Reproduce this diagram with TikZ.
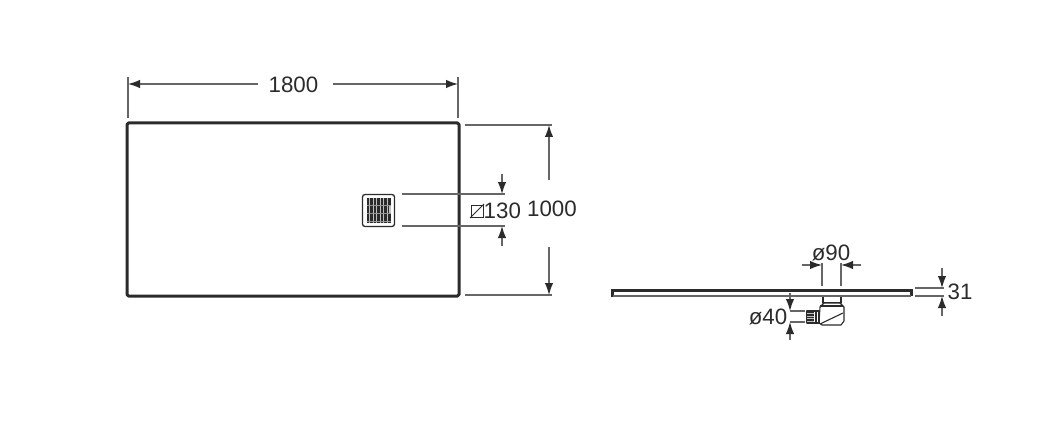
\documentclass[tikz,border=0pt]{standalone}
\usepackage{fontspec}
\setmainfont{Liberation Sans}
\usetikzlibrary{arrows.meta}
\definecolor{ink}{HTML}{2B2B2B}
\definecolor{thin}{HTML}{666666}
\tikzset{
 lbl/.style={inner sep=0pt,text=ink,font=\fontsize{22.3}{24}\selectfont},
 ext/.style={draw=thin,line width=1.3pt},
 dim/.style={draw=thin,line width=1.3pt,-{Latex[length=12pt,width=8.5pt,color=ink]}},
 heavy/.style={draw=ink,line width=3pt,line join=round},
 part/.style={draw=ink,line width=1.1pt,line join=round},
}
\begin{document}
\begin{tikzpicture}[x=1pt,y=-1pt]
\useasboundingbox (0,0) rectangle (1039,425);
% plan: tray
\node[heavy,rounded corners=1.5pt,minimum width=332pt,minimum height=173pt,inner sep=0pt,anchor=center] (tray) at (293,209.5) {};
% plan: overall length
\coordinate (xa) at (128,77);\coordinate (xa2) at (128,118);
\coordinate (xb) at (458,77);\coordinate (xb2) at (458,118);
\draw[ext] (xa) -- (xa2);\draw[ext] (xb) -- (xb2);
\node[lbl] (l1800) at (293.5,84.5) {1800};
\coordinate (xal) at (128,84);\coordinate (xar) at (458,84);
\draw[dim] (258,84) -- (xal);
\draw[dim] (333,84) -- (xar);
% plan: overall width
\coordinate (ya) at (465,125);\coordinate (ya2) at (552,125);
\coordinate (yb) at (465,295);\coordinate (yb2) at (552,295);
\draw[ext] (ya) -- (ya2);\draw[ext] (yb) -- (yb2);
\node[lbl] (l1000) at (552,208.5) {1000};
\coordinate (yat) at (549,125);\coordinate (ybt) at (549,295);
\draw[dim] (549,180) -- (yat);
\draw[dim] (549,247) -- (ybt);
% plan: drain
\node[draw=ink,line width=1.3pt,rounded corners=2.5pt,fill=white,minimum width=32pt,minimum height=32pt,inner sep=0pt] (drain) at (378.5,210.5) {};
\fill[ink] (366.5,198) rectangle (391,223);
\foreach \x in {369.5,373,376.5,380,383.5,387}{\draw[white!70!ink,line width=.7pt] (\x,198) -- (\x,223);}
\foreach \y in {205,213,221}{\draw[white!50!ink,line width=.4pt] (366.5,\y) -- (391,\y);}
\fill[white!70!ink] (388.5,206) rectangle (391,213);
% plan: drain dimension
\coordinate (da) at (402,194);\coordinate (da2) at (505,194);
\coordinate (db) at (402,226);\coordinate (db2) at (505,226);
\draw[ext] (da) -- (da2);\draw[ext] (db) -- (db2);
\coordinate (dat) at (502,194);\coordinate (dbt) at (502,226);
\draw[dim] (502,174) -- (dat);
\draw[dim] (502,246) -- (dbt);
\node[lbl,anchor=west] (l130) at (483.5,211) {130};
\draw[draw=ink,line width=1pt] (471,205) rectangle (483,217);
\draw[draw=ink,line width=1pt] (470,218) -- (484,204);
% side view: slab
\draw[draw=ink,line width=2.6pt,line cap=butt] (612.5,297) -- (612.5,290.5) -- (911.5,290.5) -- (911.5,296);
\draw[draw=thin,line width=1.2pt] (613,296) -- (911,296);
% side view: waste
\draw[part,fill=white] (823,296.5) -- (823,303) -- (841,303) -- (841,296.5);
\draw[part,fill=white] (824,303) -- (820,307) -- (819,323) -- (822,325) -- (841,325) -- (844,321) -- (844,307) -- (840,303) -- cycle;
\draw[part] (820,306) -- (843,306);
\draw[part] (820,324) -- (843,313);
\draw[part,fill=white] (807,311) rectangle (819,323);
\fill[ink] (807,311) rectangle (814,323);
\foreach \y in {313.5,316,318.5,321}{\draw[white!70!ink,line width=.6pt] (807,\y) -- (814,\y);}
\draw[part] (816,311) -- (816,323);
% side view: phi 90
\node[lbl] (l90) at (831,252.5) {ø90};
\coordinate (na) at (822,263);\coordinate (na2) at (822,286);
\coordinate (nb) at (841,263);\coordinate (nb2) at (841,286);
\draw[ext] (na) -- (na2);\draw[ext] (nb) -- (nb2);
\coordinate (nat) at (822,265);\coordinate (nbt) at (841,265);
\draw[dim] (802,265) -- (nat);
\draw[dim] (861,265) -- (nbt);
% side view: phi 40
\node[lbl] (l40) at (768,317) {ø40};
\coordinate (fa) at (790,311);\coordinate (fa2) at (805,311);
\coordinate (fb) at (790,322);\coordinate (fb2) at (805,322);
\draw[ext] (fa) -- (fa2);\draw[ext] (fb) -- (fb2);
\draw[dim] (790,293) -- (fa);
\draw[dim] (790,340) -- (fb);
% side view: 31
\coordinate (ta) at (915,288);\coordinate (ta2) at (944,288);
\coordinate (tb) at (915,296);\coordinate (tb2) at (944,296);
\draw[ext] (ta) -- (ta2);\draw[ext] (tb) -- (tb2);
\coordinate (tat) at (942,288);\coordinate (tbt) at (942,296);
\draw[dim] (942,268) -- (tat);
\draw[dim] (942,316) -- (tbt);
\node[lbl] (l31) at (960,291.5) {31};
\end{tikzpicture}
\end{document}
